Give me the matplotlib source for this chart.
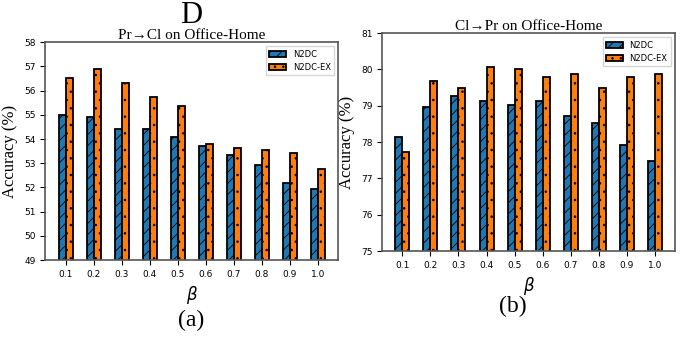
import numpy as np
import matplotlib
matplotlib.use("Agg")
import matplotlib.pyplot as plt

betas = ["0.1", "0.2", "0.3", "0.4", "0.5", "0.6", "0.7", "0.8", "0.9", "1.0"]

# Pr->Cl
pr_cl_n2dc = [55.0, 54.9, 54.4, 54.4, 54.1, 53.7, 53.35, 52.92, 52.2, 51.95]
pr_cl_ex = [56.5, 56.88, 56.33, 55.75, 55.38, 53.8, 53.63, 53.55, 53.43, 52.75]

# Cl->Pr
cl_pr_n2dc = [78.15, 78.97, 79.28, 79.13, 79.03, 79.13, 78.73, 78.53, 77.93, 77.48]
cl_pr_ex = [77.72, 79.68, 79.48, 80.07, 80.01, 79.78, 79.88, 79.48, 79.8, 79.87]

plt.rcParams['hatch.linewidth'] = 0.6

fig = plt.figure(figsize=(6.86, 3.37), dpi=100)
ax1 = fig.add_axes([0.066, 0.228, 0.427, 0.647])
ax2 = fig.add_axes([0.557, 0.255, 0.427, 0.647])

serif = "Liberation Serif"
x = np.arange(len(betas))
w = 0.25

def draw(ax, a, b, ylim, title):
    ax.bar(x - w / 2, a, w, color="#1f77b4", edgecolor="black", linewidth=1.3,
           hatch="///", label="N2DC")
    ax.bar(x + w / 2, b, w, color="#ff7f0e", edgecolor="black", linewidth=1.3,
           hatch="..", label="N2DC-EX")
    ax.set_ylim(*ylim)
    ax.set_xticks(x)
    ax.set_xticklabels(betas, fontsize=6.5)
    ax.tick_params(axis="y", labelsize=6.5)
    ax.set_xlabel(r"$\beta$", fontsize=12)
    ax.set_ylabel("Accuracy (%)", fontfamily=serif, fontsize=12)
    ax.set_title(title, fontfamily=serif, fontsize=11, pad=2)
    for s in ax.spines.values():
        s.set_color("#555555")
        s.set_linewidth(1.2)
    ax.legend(loc="upper right", fontsize=6, handlelength=2.0, fancybox=False)

draw(ax1, pr_cl_n2dc, pr_cl_ex, (49, 58), "Pr→Cl on Office-Home")
draw(ax2, cl_pr_n2dc, cl_pr_ex, (75, 81), "Cl→Pr on Office-Home")

fig.text(0.278, 0.955, "D", fontfamily=serif, fontsize=22, ha="center", va="center")
fig.text(0.278, 0.05, "(a)", fontfamily=serif, fontsize=17, ha="center", va="center")
fig.text(0.748, 0.09, "(b)", fontfamily=serif, fontsize=17, ha="center", va="center")

fig.savefig("out.png", dpi=100)
